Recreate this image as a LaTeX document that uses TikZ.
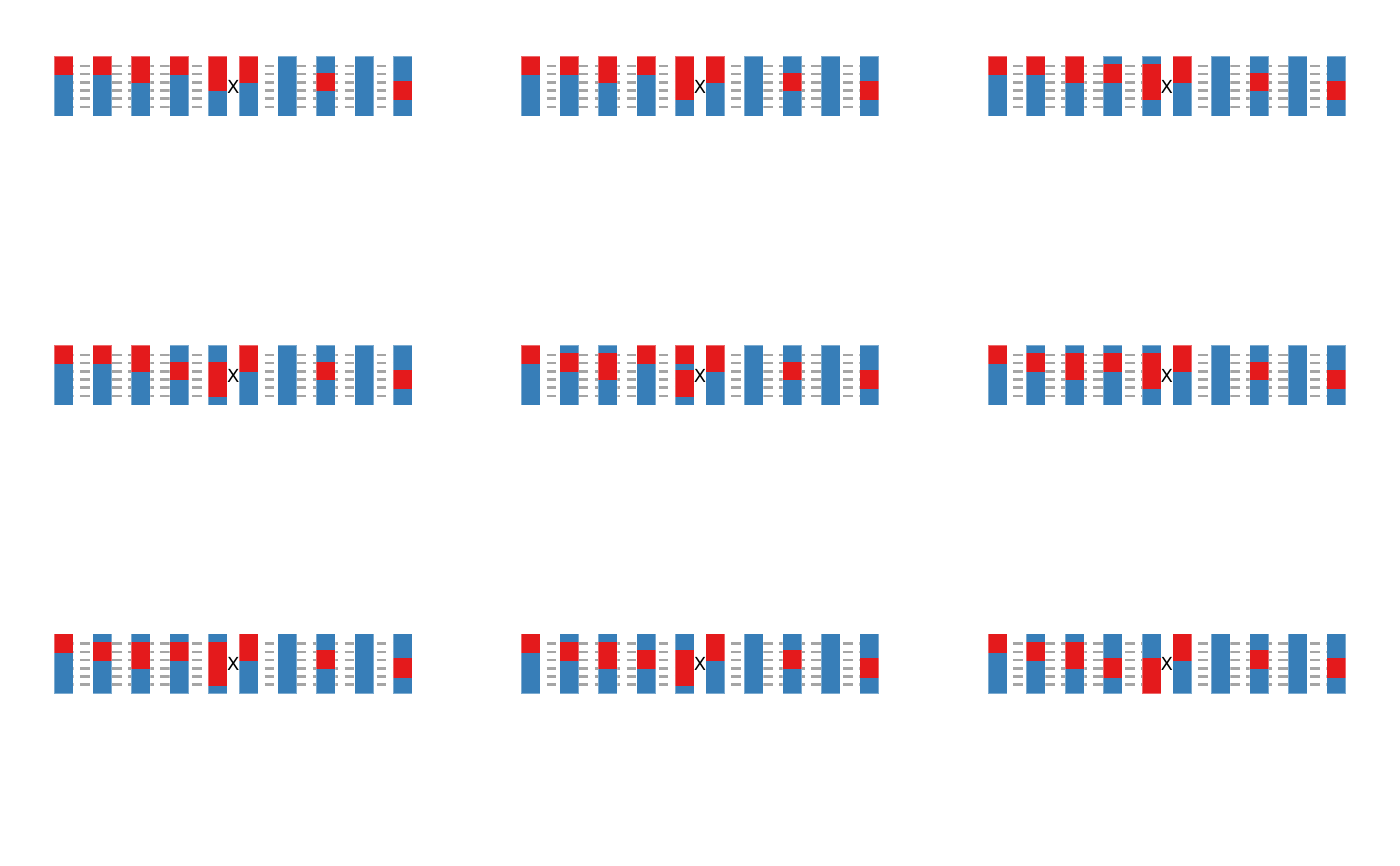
\documentclass[tikz,border=0pt]{standalone}
\usepackage{fontspec}
\setmainfont{DejaVu Sans}
\definecolor{redc}{HTML}{E41A1C}
\definecolor{bluec}{HTML}{377EB8}
\definecolor{dashc}{RGB}{165,165,165}
\tikzset{
  dashline/.style={draw=dashc, line width=2.6pt, dash pattern=on 9.7pt off 6.3pt},
  bluebar/.style={fill=bluec},
  redbar/.style={fill=redc},
  baredge/.style={draw=white, draw opacity=0.35, line width=0.8pt},
  xmark/.style={font=\fontsize{18}{20}\selectfont, inner sep=0pt}
}
\newcommand\redseg[3]{%
  \pgfmathsetmacro\bxa{(#1-1)*38.5-(#1>5)*7.8}%
  \fill[redbar] (\bxa,#2) rectangle (\bxa+19,#3);}
\newcommand\panelbase[1]{%
  \foreach \k in {0,...,5} {
    \draw[dashline] (9.5,{10+8.2*\k}) -- (163.5,{10+8.2*\k});
    \draw[dashline] (194.2,{10+8.2*\k}) -- (348.2,{10+8.2*\k});
  }
  \foreach \i in {1,...,10} {
    \pgfmathsetmacro\bxb{(\i-1)*38.5-(\i>5)*7.8}
    \fill[bluebar] (\bxb,0) rectangle (\bxb+19,60);
  }
  \redseg{1}{0}{19}
  \redseg{6}{0}{27.3}
  \redseg{8}{16.7}{35.5}
  \redseg{10}{24.7}{44}
  \node[xmark] (#1) at (178.9,30.6) {X};
}
\newcommand\paneledges{%
  \foreach \i in {1,...,10} {
    \pgfmathsetmacro\bxc{(\i-1)*38.5-(\i>5)*7.8}
    \draw[baredge] (\bxc,0) rectangle (\bxc+19,60);
  }
}
\begin{document}
\begin{tikzpicture}[x=1pt,y=-1pt]
\useasboundingbox (0,0) rectangle (1400,866);
% Row 1
\begin{scope}[shift={(54.3,56)}]
  \panelbase{x1}
  \redseg{2}{0}{19}\redseg{3}{0}{27.3}\redseg{4}{0}{19}\redseg{5}{0}{35.5}
  \paneledges
\end{scope}
\begin{scope}[shift={(521.1,56)}]
  \panelbase{x2}
  \redseg{2}{0}{19}\redseg{3}{0}{27.3}\redseg{4}{0}{19}\redseg{5}{0}{44}
  \paneledges
\end{scope}
\begin{scope}[shift={(987.9,56)}]
  \panelbase{x3}
  \redseg{2}{0}{19}\redseg{3}{0}{27.3}\redseg{4}{8.3}{27.3}\redseg{5}{8.3}{44}
  \paneledges
\end{scope}
% Row 2
\begin{scope}[shift={(54.3,345)}]
  \panelbase{x4}
  \redseg{2}{0}{19}\redseg{3}{0}{27.3}\redseg{4}{16.7}{35.5}\redseg{5}{16.7}{52}
  \paneledges
\end{scope}
\begin{scope}[shift={(521.1,345)}]
  \panelbase{x5}
  \redseg{2}{8.3}{27.3}\redseg{3}{8.3}{35.5}\redseg{4}{0}{19}\redseg{5}{0}{19}\redseg{5}{24.7}{52}
  \paneledges
\end{scope}
\begin{scope}[shift={(987.9,345)}]
  \panelbase{x6}
  \redseg{2}{8.3}{27.3}\redseg{3}{8.3}{35.5}\redseg{4}{8.3}{27.3}\redseg{5}{8.3}{44}
  \paneledges
\end{scope}
% Row 3
\begin{scope}[shift={(54.3,633.7)}]
  \panelbase{x7}
  \redseg{2}{8.3}{27.3}\redseg{3}{8.3}{35.5}\redseg{4}{8.3}{27.3}\redseg{5}{8.3}{52}
  \paneledges
\end{scope}
\begin{scope}[shift={(521.1,633.7)}]
  \panelbase{x8}
  \redseg{2}{8.3}{27.3}\redseg{3}{8.3}{35.5}\redseg{4}{16.7}{35.5}\redseg{5}{16.7}{52}
  \paneledges
\end{scope}
\begin{scope}[shift={(987.9,633.7)}]
  \panelbase{x9}
  \redseg{2}{8.3}{27.3}\redseg{3}{8.3}{35.5}\redseg{4}{24.7}{44}\redseg{5}{24.7}{60}
  \paneledges
\end{scope}
\end{tikzpicture}
\end{document}
